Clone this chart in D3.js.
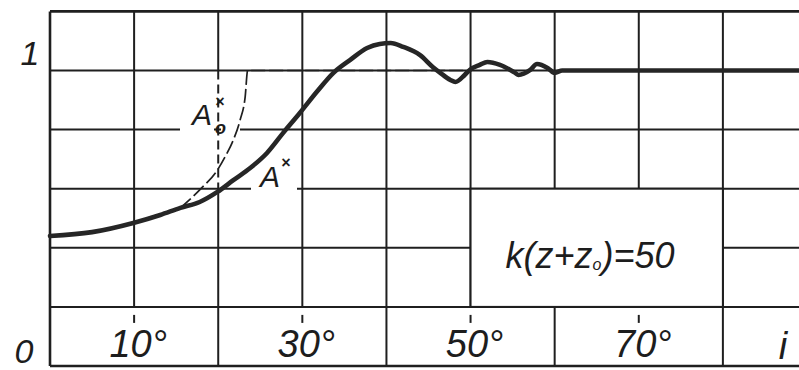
<!DOCTYPE html>
<html>
<head>
<meta charset="utf-8">
<script src="https://cdn.jsdelivr.net/npm/d3@7"></script>
<style>
  body { margin: 0; background: #fff; }
  svg { display: block; }
  text { font-family: "Liberation Sans", Arial, sans-serif; font-style: italic; fill: #1d1d1d; }
</style>
</head>
<body>
<svg id="chart" width="799" height="370"></svg>
<script>
// Transient response A* against angle i (degrees)
const angleDeg = [0, 5, 9.9, 13.1, 15.5, 17.8, 19.9, 21.8, 23.8, 25.8, 27.7, 29.7, 31.7, 33.7,
  35.7, 37.7, 39.2, 40.5, 42, 44, 45.5, 46.4, 47.6, 48.2, 49.3, 49.9, 51.1, 52, 53.5, 55.3,
  55.7, 57.1, 57.9, 59.2, 60, 60.9, 65, 75, 90];
const responseA = [0.44, 0.453, 0.484, 0.511, 0.535, 0.555, 0.589, 0.629, 0.670, 0.721, 0.788,
  0.856, 0.927, 0.992, 1.036, 1.076, 1.090, 1.093, 1.080, 1.052, 1.012, 0.992, 0.968, 0.961,
  0.985, 1.002, 1.019, 1.029, 1.019, 0.992, 0.985, 1.002, 1.022, 1.008, 0.992, 1.0, 1.0, 1.0, 1.0];

// Idealised response A0* (thin dashed branch)
const idealDeg = [15.5, 17.8, 19.9, 20.8, 21.8, 22.6, 23.2, 23.5, 30, 40, 50];
const idealA0 = [0.535, 0.596, 0.663, 0.707, 0.765, 0.832, 0.910, 1.0, 1.0, 1.0, 1.0];

// Grid and axis labelling
const gridAngles = [0, 10, 20, 30, 40, 50, 60, 70, 80, 90];
const gridValues = [0, 0.2, 0.4, 0.6, 0.8, 1.0, 1.2];
const labelledAngles = [10, 30, 50, 70];
const angleLabels = ["10°", "30°", "50°", "70°"];
const valueLabels = [{ v: 0, t: "0" }, { v: 1, t: "1" }];
const paramText = ["k(z+z", "o", ")=50"];

const W = 799, H = 370;
const svg = d3.select("#chart");
const x = d3.scaleLinear().domain([0, 90]).range([50, 807]);
const y = d3.scaleLinear().domain([0, 1.2]).range([366, 11.4]);
const ink = "#1f1f1f";

const grid = svg.append("g").attr("stroke", ink).attr("stroke-width", 2).attr("fill", "none");

// horizontal rules
grid.selectAll("line.h").data(gridValues).join("line")
  .attr("class", "h")
  .attr("x1", x(0)).attr("x2", W)
  .attr("y1", d => y(d)).attr("y2", d => y(d))
  .attr("stroke-width", d => (d === 1.2 || d === 0) ? 2.6 : 2);

// vertical rules: labelled angles stop at the 0.2 rule and get a short tick below it
const segs = [];
gridAngles.forEach(a => {
  const bottom = labelledAngles.includes(a) ? 0.2 : 0;
  if (a === 20) {
    segs.push({ a, v1: 1.2, v2: 1.0, dash: null });
    segs.push({ a, v1: 1.0, v2: 0.6, dash: "9,5" });
    segs.push({ a, v1: 0.6, v2: 0, dash: null });
  } else {
    segs.push({ a, v1: 1.2, v2: bottom, dash: null });
  }
});
grid.selectAll("line.v").data(segs).join("line")
  .attr("class", "v")
  .attr("x1", d => x(d.a)).attr("x2", d => x(d.a))
  .attr("y1", d => y(d.v1)).attr("y2", d => y(d.v2))
  .attr("stroke-dasharray", d => d.dash)
  .attr("stroke-width", d => d.a === 0 ? 2.6 : 2);

grid.selectAll("line.tick").data(labelledAngles).join("line")
  .attr("class", "tick")
  .attr("x1", d => x(d)).attr("x2", d => x(d))
  .attr("y1", y(0.2) + 8).attr("y2", y(0.2) + 16);

// breaks in the rules behind the curve labels
svg.append("rect").attr("x", 180).attr("y", y(0.8) - 3).attr("width", 34).attr("height", 6).attr("fill", "#fff");
svg.append("rect").attr("x", 221).attr("y", y(0.8) - 3).attr("width", 19).attr("height", 6).attr("fill", "#fff");
svg.append("rect").attr("x", 251).attr("y", y(0.6) - 3).attr("width", 46).attr("height", 6).attr("fill", "#fff");

// parameter box
svg.append("rect")
  .attr("x", x(50)).attr("y", y(0.6))
  .attr("width", x(80) - x(50)).attr("height", y(0.2) - y(0.6))
  .attr("fill", "#fff").attr("stroke", ink).attr("stroke-width", 2);

const pt = svg.append("text").attr("x", 590).attr("y", 268).attr("text-anchor", "middle")
  .attr("font-size", 36);
pt.append("tspan").text(paramText[0]);
pt.append("tspan").attr("font-size", 16).attr("dy", 2).text(paramText[1]);
pt.append("tspan").attr("dy", -2).text(paramText[2]);

// curves
const line = d3.line().x(d => x(d[0])).y(d => y(d[1])).curve(d3.curveMonotoneX);

svg.append("path")
  .attr("d", line(idealDeg.map((d, i) => [d, idealA0[i]])))
  .attr("fill", "none").attr("stroke", ink).attr("stroke-width", 1.7)
  .attr("stroke-dasharray", "14,4");

svg.append("path")
  .attr("d", line(angleDeg.map((d, i) => [d, responseA[i]])))
  .attr("fill", "none").attr("stroke", "#262626").attr("stroke-width", 4.6)
  .attr("stroke-linecap", "round").attr("stroke-linejoin", "round");

// curve labels
svg.append("text").attr("x", 192).attr("y", 125).attr("font-size", 30).text("A");
svg.append("text").attr("x", 215).attr("y", 107).attr("font-size", 16).attr("font-weight", "bold").text("×");
svg.append("text").attr("x", 215).attr("y", 134).attr("font-size", 18).attr("font-weight", "bold").text("o");

svg.append("text").attr("x", 260).attr("y", 187).attr("font-size", 30).text("A");
svg.append("text").attr("x", 281).attr("y", 168).attr("font-size", 16).attr("font-weight", "bold").text("×");

// axis labels
svg.selectAll("text.xl").data(labelledAngles).join("text")
  .attr("class", "xl")
  .attr("x", d => x(d) + 4).attr("y", 357)
  .attr("text-anchor", "middle").attr("font-size", 38)
  .text((d, i) => angleLabels[i]);

svg.selectAll("text.yl").data(valueLabels).join("text")
  .attr("class", "yl")
  .attr("x", d => d.v === 0 ? 24 : 30).attr("y", d => d.v === 0 ? 363 : 65)
  .attr("text-anchor", "middle").attr("font-size", 34)
  .text(d => d.t);

svg.append("text").attr("x", 783).attr("y", 359).attr("text-anchor", "middle")
  .attr("font-size", 38).text("i");
</script>
</body>
</html>
